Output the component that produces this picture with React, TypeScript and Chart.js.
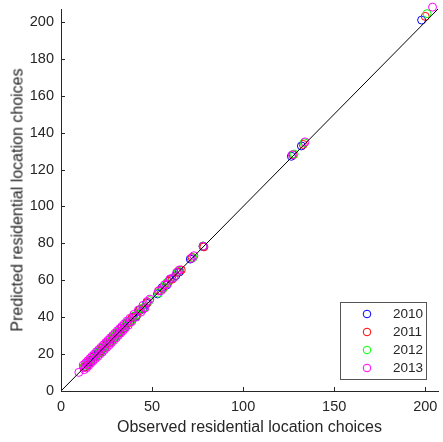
import React, { useEffect, useRef } from "react";
import { Chart, registerables } from "chart.js";

Chart.register(...registerables);

const years = ["2010", "2011", "2012", "2013"];
const colors = ["#0000FF", "#FF0000", "#00FF00", "#FF00FF"];

const obs2010 = [13.5, 15, 16.5, 18, 19, 20.5, 22, 23, 24.5, 25.5, 27, 28, 29.5, 31, 32, 33.5, 35, 36.5, 38, 39.5, 41, 43, 45, 47, 53, 55.5, 58, 60, 63, 65, 71, 78, 126.5, 132, 198];
const pred2010 = [13.2, 15.4, 16.1, 18.6, 18.7, 21.1, 21.5, 23.6, 24.0, 26.1, 26.5, 28.7, 29.0, 31.6, 31.5, 34.1, 34.4, 37.2, 37.5, 40.1, 40.4, 43.6, 44.4, 47.5, 52.6, 56.0, 57.4, 60.5, 62.5, 64.5, 71.5, 78.3, 127.2, 132.8, 201];

const obs2011 = [12.5, 14.5, 16, 17.5, 19.5, 21, 22.5, 24, 25, 26.5, 28, 29, 30.5, 32, 33, 34.5, 36, 37.5, 39, 41.5, 43.5, 45.5, 47.5, 54, 56, 59, 61, 64, 66, 72, 78.5, 127.5, 133, 200];
const pred2011 = [12.8, 14.1, 16.6, 17.2, 20.1, 20.6, 23.1, 23.5, 25.6, 26.1, 28.5, 28.6, 31.1, 31.6, 33.6, 34.0, 36.6, 37.1, 39.6, 41.0, 44.1, 45.1, 48.0, 54.5, 55.6, 59.5, 60.6, 64.4, 65.6, 72.4, 78.1, 128, 133.6, 203];

const obs2012 = [13, 15.5, 17, 18.5, 20, 21.5, 23, 24.5, 26, 27.5, 29, 30, 31.5, 33, 34, 35.5, 37, 38.5, 40, 42, 44, 46, 48.5, 53.5, 56.5, 58, 62, 64.5, 72.5, 78, 128, 133.5, 201];
const pred2012 = [13.5, 15.0, 17.6, 18.0, 20.6, 21.0, 23.6, 24.0, 26.6, 27.0, 29.6, 29.5, 32.1, 32.5, 34.6, 35.0, 37.6, 38.0, 40.6, 41.5, 44.6, 45.5, 49.0, 53.0, 56.0, 58.6, 61.5, 65.0, 72.2, 78.6, 128.4, 134.5, 204.5];

const obs2013 = [9.8, 12.2, 12.8, 13.5, 14.1, 14.6, 15.2, 15.9, 16.4, 17.0, 17.6, 18.3, 18.9, 19.5, 20.2, 20.8, 21.4, 22.0, 22.7, 23.3, 23.9, 24.6, 25.2, 25.8, 26.5, 27.1, 27.7, 28.4, 29.0, 29.6, 30.3, 30.9, 31.5, 32.2, 32.8, 33.4, 34.1, 34.7, 35.4, 36.2, 37.0, 37.9, 38.8, 40.0, 41.2, 42.5, 43.8, 45.0, 46.1, 47.2, 48.8, 53.5, 55, 56.8, 58.5, 60, 62, 63.5, 65, 71.5, 73, 78, 127, 134, 204];
const pred2013 = [10.1, 14.0, 11.6, 15.1, 12.6, 16.3, 13.8, 17.6, 15.1, 18.8, 16.3, 20.0, 17.5, 21.3, 18.7, 22.5, 20.0, 23.7, 21.1, 25.0, 22.4, 26.3, 23.7, 27.5, 25.0, 28.8, 26.2, 30.1, 27.5, 31.3, 28.8, 32.6, 30.1, 33.8, 31.4, 35.0, 32.7, 36.3, 34.2, 37.8, 35.7, 39.4, 37.6, 41.5, 40.0, 43.9, 42.7, 46.4, 45.0, 48.5, 49.8, 54.2, 54.4, 57.5, 58.0, 60.8, 61.5, 64.2, 65.6, 71.8, 73.3, 78.5, 128, 135, 208];

const observed = [obs2010, obs2011, obs2012, obs2013];
const predicted = [pred2010, pred2011, pred2012, pred2013];

const refLine = [0, 207];
const axisMax = 207;
const xStep = 50;
const yStep = 20;

const xTitle = "Observed residential location choices";
const yTitle = "Predicted residential location choices";

const FONT = "'Liberation Sans', Arial, Helvetica, sans-serif";
const AXIS_COLOR = "#262626";

const inwardTicks = {
  id: "inwardTicks",
  afterDatasetsDraw(chart: any) {
    const { ctx, chartArea, scales } = chart;
    const len = 4;
    ctx.save();
    ctx.strokeStyle = AXIS_COLOR;
    ctx.lineWidth = 1;
    ctx.beginPath();
    scales.x.ticks.forEach((t: any) => {
      const px = Math.round(scales.x.getPixelForValue(t.value)) + 0.5;
      ctx.moveTo(px, chartArea.bottom);
      ctx.lineTo(px, chartArea.bottom - len);
    });
    scales.y.ticks.forEach((t: any) => {
      const py = Math.round(scales.y.getPixelForValue(t.value)) + 0.5;
      ctx.moveTo(chartArea.left, py);
      ctx.lineTo(chartArea.left + len, py);
    });
    ctx.stroke();
    ctx.restore();
  },
};

const axisTitles = {
  id: "axisTitles",
  afterDraw(chart: any) {
    const { ctx, chartArea } = chart;
    ctx.save();
    ctx.fillStyle = AXIS_COLOR;
    ctx.font = `16px ${FONT}`;
    ctx.textAlign = "center";
    ctx.textBaseline = "middle";
    ctx.fillText(xTitle, (chartArea.left + chartArea.right) / 2, 428);
    ctx.restore();
  },
};

const boxLegend = {
  id: "boxLegend",
  afterDraw(chart: any) {
    const { ctx, chartArea } = chart;
    const w = 86;
    const h = 77;
    const x1 = Math.round(chartArea.right - 12 - w);
    const y1 = Math.round(chartArea.bottom - 12 - h);
    ctx.save();
    ctx.fillStyle = "#ffffff";
    ctx.fillRect(x1, y1, w, h);
    ctx.strokeStyle = "#555555";
    ctx.lineWidth = 1;
    ctx.strokeRect(x1 + 0.5, y1 + 0.5, w, h);
    ctx.font = `13.5px ${FONT}`;
    ctx.textBaseline = "middle";
    ctx.textAlign = "left";
    const sets = chart.data.datasets.filter((d: any) => d.type !== "line");
    sets.forEach((d: any, i: number) => {
      const cy = y1 + 12 + i * 18;
      ctx.beginPath();
      ctx.strokeStyle = d.borderColor;
      ctx.lineWidth = 1;
      ctx.arc(x1 + 27, cy, 3.8, 0, Math.PI * 2);
      ctx.stroke();
      ctx.fillStyle = AXIS_COLOR;
      ctx.fillText(d.label, x1 + 53, cy + 0.5);
    });
    ctx.restore();
  },
};

export default function App() {
  const ref = useRef<HTMLCanvasElement>(null);

  useEffect(() => {
    document.body.style.margin = "0";
    const scatterSets = years.map((yr, i) => ({
      type: "scatter" as const,
      label: yr,
      data: observed[i].map((x, j) => ({ x, y: predicted[i][j] })),
      borderColor: colors[i],
      backgroundColor: "rgba(0,0,0,0)",
      pointRadius: 4,
      pointBorderWidth: 1,
      pointStyle: "circle",
      showLine: false,
      clip: false,
      order: 10 - i,
    }));
    const lineSet = {
      type: "line" as const,
      label: "fit",
      data: refLine.map((v) => ({ x: v, y: v })),
      borderColor: "#000000",
      borderWidth: 1,
      pointRadius: 0,
      fill: false,
      order: 0,
    };
    const chart = new Chart(ref.current!, {
      type: "scatter",
      data: { datasets: [...scatterSets, lineSet] as any },
      options: {
        animation: false,
        responsive: false,
        maintainAspectRatio: false,
        layout: { padding: { top: 9, right: 0, left: 0, bottom: 0 } },
        plugins: { legend: { display: false }, tooltip: { enabled: false } },
        scales: {
          x: {
            type: "linear",
            min: 0,
            max: axisMax,
            grid: { display: false, drawTicks: false },
            border: { display: true, color: AXIS_COLOR, width: 1 },
            ticks: {
              stepSize: xStep,
              includeBounds: false,
              color: AXIS_COLOR,
              padding: 7,
              maxRotation: 0,
              font: { family: FONT, size: 14.5 },
            },
            title: { display: false },
            afterFit: (s: any) => {
              s.height = 51;
              s.paddingLeft = 0;
              s.paddingRight = 0;
            },
          },
          y: {
            type: "linear",
            min: 0,
            max: axisMax,
            grid: { display: false, drawTicks: false },
            border: { display: true, color: AXIS_COLOR, width: 1 },
            ticks: {
              stepSize: yStep,
              includeBounds: false,
              color: AXIS_COLOR,
              padding: 7,
              font: { family: FONT, size: 14.5 },
            },
            title: { display: false },
            afterFit: (s: any) => {
              s.width = 61;
              s.paddingTop = 0;
              s.paddingBottom = 0;
            },
          },
        },
      },
      plugins: [inwardTicks, axisTitles, boxLegend],
    });
    return () => chart.destroy();
  }, []);

  return (
    <div style={{ position: "absolute", left: 0, top: 0, width: 443, height: 442, background: "#fff", overflow: "hidden" }}>
      <canvas ref={ref} width={443} height={442} style={{ display: "block" }} />
      <div
        style={{
          position: "absolute",
          left: 17,
          top: 200,
          transform: "translate(-50%, -50%) rotate(-90deg)",
          whiteSpace: "nowrap",
          fontFamily: FONT,
          fontSize: 16,
          lineHeight: "19px",
          color: AXIS_COLOR,
        }}
      >
        {yTitle}
      </div>
    </div>
  );
}
